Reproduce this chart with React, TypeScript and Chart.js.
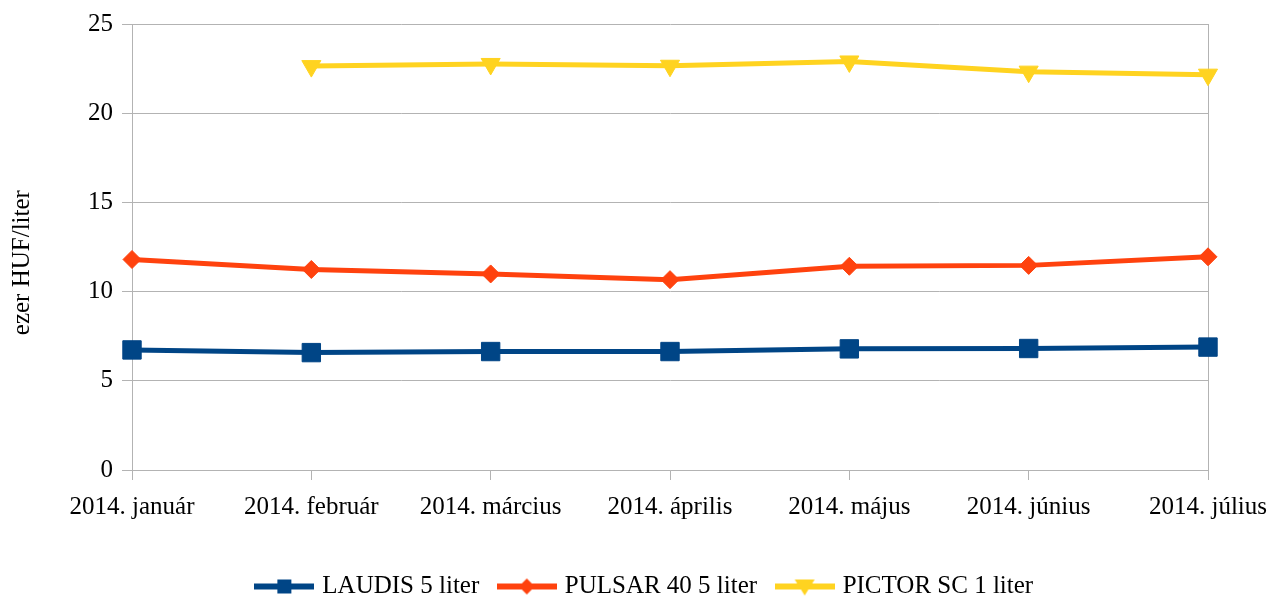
import React, { useEffect, useRef } from "react";
import { Chart, registerables } from "chart.js";

Chart.register(...registerables);

const categories = [
  "2014. január",
  "2014. február",
  "2014. március",
  "2014. április",
  "2014. május",
  "2014. június",
  "2014. július",
];

const laudis = [6.73, 6.58, 6.64, 6.64, 6.79, 6.81, 6.89];
const pulsar = [11.8, 11.24, 10.99, 10.67, 11.42, 11.47, 11.95];
const pictor: (number | null)[] = [null, 22.64, 22.76, 22.66, 22.9, 22.33, 22.16];

const seriesNames = ["LAUDIS 5 liter", "PULSAR 40 5 liter", "PICTOR SC 1 liter"];
const seriesColors = ["#004586", "#ff420e", "#ffd320"];
const yTicks = [0, 5, 10, 15, 20, 25];
const yTitle = "ezer HUF/liter";

const FONT = "'Liberation Serif', 'Times New Roman', serif";
const GRID = "#b3b3b3";

function legendIcon(color: string, style: string): HTMLCanvasElement {
  const c = document.createElement("canvas");
  c.width = 60;
  c.height = 24;
  const ctx = c.getContext("2d")!;
  ctx.strokeStyle = color;
  ctx.lineWidth = 6;
  ctx.beginPath();
  ctx.moveTo(0, 12);
  ctx.lineTo(60, 12);
  ctx.stroke();
  ctx.fillStyle = color;
  ctx.beginPath();
  if (style === "rect") {
    ctx.rect(30 - 7, 12 - 7, 14, 14);
  } else if (style === "diamond") {
    ctx.moveTo(30, 12 - 8);
    ctx.lineTo(30 + 8, 12);
    ctx.lineTo(30, 12 + 8);
    ctx.lineTo(30 - 8, 12);
    ctx.closePath();
  } else {
    ctx.moveTo(30 - 10, 12 - 7);
    ctx.lineTo(30 + 10, 12 - 7);
    ctx.lineTo(30, 12 + 9);
    ctx.closePath();
  }
  ctx.fill();
  return c;
}

const shiftLegend = {
  id: "shiftLegend",
  afterLayout(chart: any) {
    if (chart.legend) {
      chart.legend.left += 42;
      chart.legend.right += 42;
    }
  },
};

export default function App() {
  const ref = useRef<HTMLCanvasElement | null>(null);

  useEffect(() => {
    if (!ref.current) return;
    const icons = [
      legendIcon(seriesColors[0], "rect"),
      legendIcon(seriesColors[1], "diamond"),
      legendIcon(seriesColors[2], "tri"),
    ];
    const chart = new Chart(ref.current, {
      type: "line",
      plugins: [shiftLegend],
      data: {
        labels: categories,
        datasets: [
          {
            label: seriesNames[0],
            data: laudis,
            borderColor: seriesColors[0],
            backgroundColor: seriesColors[0],
            borderWidth: 5,
            pointStyle: "rect",
            pointRadius: 13,
            pointBorderWidth: 1,
            tension: 0,
          },
          {
            label: seriesNames[1],
            data: pulsar,
            borderColor: seriesColors[1],
            backgroundColor: seriesColors[1],
            borderWidth: 5,
            pointStyle: "rectRot",
            pointRadius: 9,
            pointBorderWidth: 1,
            tension: 0,
          },
          {
            label: seriesNames[2],
            data: pictor,
            borderColor: seriesColors[2],
            backgroundColor: seriesColors[2],
            borderWidth: 5,
            pointStyle: "triangle",
            pointRotation: 180,
            pointRadius: 11,
            pointBorderWidth: 1,
            tension: 0,
          },
        ],
      },
      options: {
        animation: false,
        responsive: true,
        maintainAspectRatio: false,
        layout: { padding: { left: 0, right: 60, top: 23, bottom: -10 } },
        plugins: {
          tooltip: { enabled: false },
          legend: {
            position: "bottom",
            labels: {
              usePointStyle: true,
              pointStyleWidth: 51,
              padding: 22,
              color: "#000",
              font: { family: FONT, size: 25 },
              generateLabels: (ch: any) => {
                const base = Chart.defaults.plugins.legend.labels.generateLabels(ch);
                return base.map((l: any, i: number) => ({
                  ...l,
                  pointStyle: icons[i],
                  rotation: 0,
                }));
              },
            },
          },
        },
        scales: {
          x: {
            offset: false,
            afterFit: (s: any) => {
              s.height = 82;
              s.paddingRight = 0;
              s.paddingLeft = 0;
            },
            grid: {
              color: (c: any) => (c.index === categories.length - 1 ? GRID : "rgba(0,0,0,0)"),
              tickColor: GRID,
              tickLength: 10,
              lineWidth: 1,
            },
            border: { color: GRID },
            ticks: {
              color: "#000",
              font: { family: FONT, size: 25 },
              padding: 12,
              maxRotation: 0,
              autoSkip: false,
            },
          },
          y: {
            min: yTicks[0],
            max: yTicks[yTicks.length - 1],
            afterFit: (s: any) => {
              s.width = 132;
            },
            grid: { color: GRID, tickColor: GRID, tickLength: 10 },
            border: { color: GRID },
            ticks: {
              stepSize: 5,
              color: "#000",
              font: { family: FONT, size: 25 },
              padding: 9,
            },
            title: {
              display: true,
              text: yTitle + "     ",
              color: "#000",
              font: { family: FONT, size: 25 },
              padding: { top: 7, bottom: 0 },
            },
          },
        },
      },
    });
    return () => chart.destroy();
  }, []);

  return (
    <div style={{ position: "fixed", left: 0, top: 0, width: 1268, height: 599, background: "#fff" }}>
      <canvas ref={ref} />
    </div>
  );
}
